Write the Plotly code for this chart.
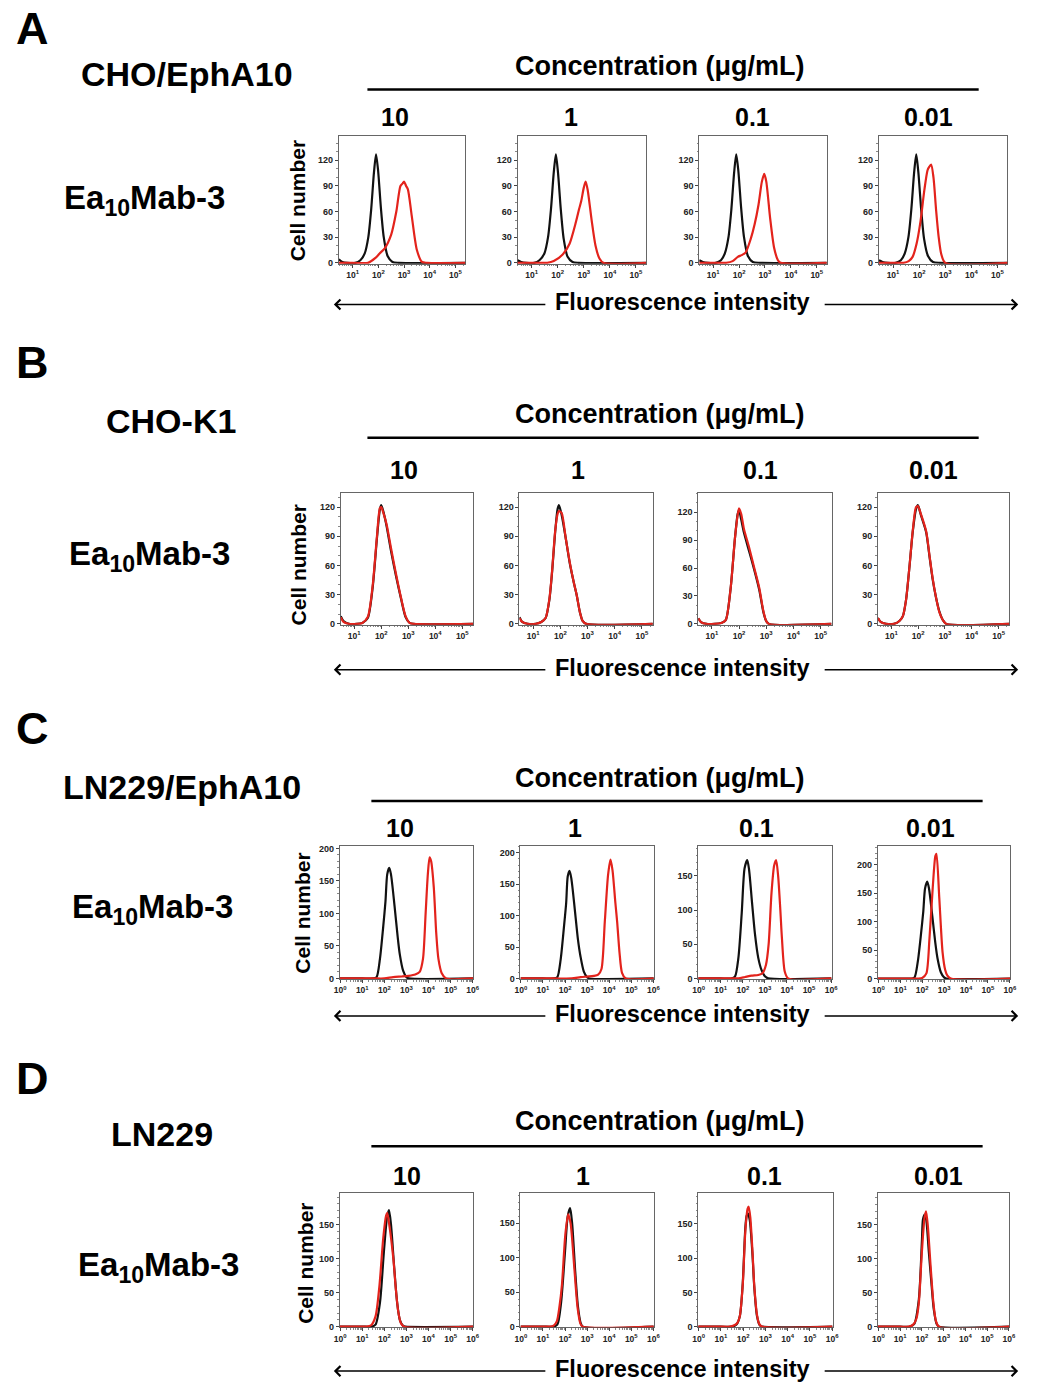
import math
import plotly.graph_objects as go

# ---------------- data (log10 fluorescence, cell counts) ----------------
# Panel A: CHO/EphA10
a10_ctrl_logx = [0.46, 0.6, 0.8, 1.1, 1.3, 1.47, 1.61, 1.72, 1.83, 1.91, 1.99, 2.1, 2.21, 2.36, 2.55, 2.8, 5.4]
a10_ctrl_y = [4, 1, 0, 0, 3, 11, 30, 62, 106, 127, 108, 64, 30, 8, 1, 0, 0]
a10_red_logx = [0.46, 1.0, 1.6, 1.9, 2.05, 2.25, 2.5, 2.7, 2.86, 2.95, 3.0, 3.08, 3.15, 3.3, 3.5, 3.7, 3.9, 5.4]
a10_red_y = [0, 0, 0, 6, 11, 17, 33, 60, 90, 93, 95, 90, 86, 55, 15, 1, 0, 0]

a1_ctrl_logx = [0.46, 0.6, 0.8, 1.1, 1.3, 1.49, 1.63, 1.74, 1.85, 1.93, 2.01, 2.12, 2.23, 2.38, 2.57, 2.8, 5.4]
a1_ctrl_y = [3, 1, 0, 0, 3, 11, 30, 62, 106, 127, 106, 62, 28, 7, 1, 0, 0]
a1_red_logx = [0.46, 1.2, 1.6, 1.85, 2.2, 2.45, 2.7, 2.82, 2.9, 3.0, 3.07, 3.15, 3.3, 3.45, 3.6, 3.75, 5.4]
a1_red_y = [0, 0, 0, 2, 10, 22, 48, 63, 72, 88, 95, 85, 50, 20, 5, 0, 0]

a01_ctrl_logx = [0.46, 0.6, 0.8, 1.1, 1.3, 1.45, 1.59, 1.7, 1.81, 1.89, 1.97, 2.08, 2.19, 2.34, 2.53, 2.8, 5.4]
a01_ctrl_y = [3, 1, 0, 0, 3, 11, 30, 62, 106, 127, 108, 64, 30, 8, 1, 0, 0]
a01_red_logx = [0.46, 1.2, 1.5, 1.75, 1.95, 2.1, 2.25, 2.45, 2.6, 2.75, 2.88, 2.97, 3.05, 3.2, 3.35, 3.5, 3.6, 5.4]
a01_red_y = [0, 0, 0, 2, 7, 9, 12, 28, 45, 68, 95, 104, 95, 52, 18, 3, 0, 0]

a001_ctrl_logx = [0.46, 0.6, 0.8, 1.1, 1.3, 1.45, 1.59, 1.7, 1.81, 1.89, 1.97, 2.08, 2.19, 2.34, 2.53, 2.8, 5.4]
a001_ctrl_y = [3, 1, 0, 0, 3, 11, 30, 62, 106, 127, 106, 62, 28, 8, 1, 0, 0]
a001_red_logx = [0.46, 1.2, 1.4, 1.6, 1.75, 1.9, 2.05, 2.2, 2.32, 2.38, 2.46, 2.55, 2.65, 2.75, 2.85, 3.0, 5.4]
a001_red_y = [0, 0, 0, 2, 7, 22, 48, 85, 108, 112, 115, 100, 62, 30, 10, 0, 0]

# Panel B: CHO-K1
b10_ctrl_logx = [0.5, 0.6, 0.8, 1.1, 1.3, 1.5, 1.68, 1.84, 1.95, 2.0, 2.1, 2.2, 2.36, 2.54, 2.73, 2.9, 3.05, 3.2, 5.4]
b10_ctrl_y = [8, 3, 0, 0, 1, 6, 37, 88, 118, 122, 113, 100, 75, 50, 26, 7, 1, 0, 0]
b10_red_logx = [0.5, 0.6, 0.8, 1.1, 1.3, 1.5, 1.68, 1.84, 1.95, 2.0, 2.1, 2.2, 2.36, 2.54, 2.73, 2.9, 3.05, 3.2, 5.4]
b10_red_y = [7, 2, 0, 0, 1, 7, 39, 90, 119, 120, 112, 102, 78, 52, 27, 8, 1, 0, 0]

b1_ctrl_logx = [0.5, 0.6, 0.8, 1.1, 1.3, 1.46, 1.6, 1.7, 1.81, 1.9, 1.95, 2.05, 2.2, 2.35, 2.5, 2.6, 2.72, 2.82, 2.95, 5.4]
b1_ctrl_y = [7, 2, 0, 0, 2, 6, 25, 54, 94, 118, 122, 112, 88, 62, 42, 30, 12, 3, 0, 0]
b1_red_logx = [0.5, 0.6, 0.8, 1.1, 1.3, 1.46, 1.6, 1.7, 1.81, 1.9, 1.95, 2.05, 2.2, 2.35, 2.5, 2.6, 2.72, 2.82, 2.95, 5.4]
b1_red_y = [6, 2, 0, 0, 2, 6, 26, 55, 95, 113, 116, 114, 88, 63, 42, 30, 12, 3, 0, 0]

b01_ctrl_logx = [0.5, 0.6, 0.8, 1.1, 1.35, 1.51, 1.69, 1.85, 1.95, 2.0, 2.08, 2.18, 2.37, 2.56, 2.74, 2.9, 3.0, 3.1, 5.4]
b01_ctrl_y = [6, 2, 0, 0, 1, 4, 38, 92, 118, 122, 112, 98, 78, 58, 37, 12, 3, 0, 0]
b01_red_logx = [0.5, 0.6, 0.8, 1.1, 1.35, 1.51, 1.69, 1.85, 1.95, 2.0, 2.08, 2.18, 2.37, 2.56, 2.74, 2.9, 3.0, 3.1, 5.4]
b01_red_y = [6, 2, 0, 0, 1, 4, 38, 92, 117, 124, 118, 102, 82, 60, 39, 13, 3, 0, 0]

b001_ctrl_logx = [0.5, 0.6, 0.8, 1.1, 1.3, 1.43, 1.55, 1.68, 1.8, 1.92, 1.99, 2.1, 2.3, 2.42, 2.54, 2.66, 2.79, 2.92, 3.05, 5.4]
b001_ctrl_y = [6, 2, 0, 0, 3, 8, 25, 60, 95, 118, 122, 112, 94, 70, 46, 28, 13, 4, 0, 0]
b001_red_logx = [0.5, 0.6, 0.8, 1.1, 1.3, 1.43, 1.55, 1.68, 1.8, 1.92, 1.99, 2.1, 2.3, 2.42, 2.54, 2.66, 2.79, 2.92, 3.05, 5.4]
b001_red_y = [6, 2, 0, 0, 3, 8, 25, 60, 96, 120, 121, 113, 95, 71, 47, 28, 12, 4, 0, 0]

# Panel C: LN229/EphA10
c10_ctrl_logx = [-0.02, 1.0, 1.5, 1.65, 1.8, 1.95, 2.05, 2.13, 2.22, 2.3, 2.46, 2.6, 2.7, 2.85, 3.0, 3.1, 6.02]
c10_ctrl_y = [0, 0, 0, 2, 30, 80, 118, 160, 170, 160, 112, 65, 37, 12, 2, 0, 0]
c10_red_logx = [-0.02, 1.5, 2.0, 2.4, 2.8, 3.1, 3.4, 3.6, 3.75, 3.87, 3.97, 4.05, 4.12, 4.24, 4.35, 4.45, 4.6, 4.8, 6.02]
c10_red_y = [0, 0, 0, 2, 3, 4, 6, 10, 30, 100, 160, 186, 180, 140, 70, 30, 8, 0, 0]

c1_ctrl_logx = [-0.02, 1.0, 1.5, 1.65, 1.8, 1.95, 2.05, 2.12, 2.2, 2.28, 2.44, 2.58, 2.7, 2.85, 3.0, 3.1, 6.02]
c1_ctrl_y = [0, 0, 0, 2, 30, 82, 120, 162, 171, 160, 110, 63, 35, 11, 2, 0, 0]
c1_red_logx = [-0.02, 1.5, 2.3, 2.7, 3.0, 3.3, 3.5, 3.65, 3.8, 3.95, 4.06, 4.15, 4.28, 4.36, 4.47, 4.58, 4.75, 6.02]
c1_red_y = [0, 0, 0, 2, 3, 4, 6, 15, 90, 165, 189, 172, 120, 90, 40, 9, 0, 0]

c01_ctrl_logx = [-0.02, 1.0, 1.5, 1.65, 1.8, 1.95, 2.08, 2.2, 2.28, 2.42, 2.55, 2.7, 2.85, 3.0, 3.15, 6.02]
c01_ctrl_y = [0, 0, 0, 3, 30, 95, 161, 173, 160, 110, 65, 30, 12, 3, 0, 0]
c01_red_logx = [-0.02, 1.5, 1.8, 2.1, 2.4, 2.7, 2.9, 3.05, 3.17, 3.3, 3.42, 3.51, 3.6, 3.7, 3.77, 3.9, 4.05, 6.02]
c01_red_y = [0, 0, 0, 2, 4, 5, 8, 20, 50, 125, 165, 173, 150, 100, 60, 10, 0, 0]

c001_ctrl_logx = [-0.02, 1.0, 1.5, 1.65, 1.8, 1.95, 2.05, 2.13, 2.23, 2.31, 2.46, 2.6, 2.7, 2.85, 3.0, 3.1, 6.02]
c001_ctrl_y = [0, 0, 0, 2, 30, 80, 118, 158, 170, 158, 110, 62, 35, 11, 2, 0, 0]
c001_red_logx = [-0.02, 1.5, 1.8, 2.0, 2.19, 2.33, 2.48, 2.6, 2.65, 2.78, 2.93, 3.05, 3.15, 3.3, 6.02]
c001_red_y = [0, 0, 0, 1, 9, 69, 159, 215, 219, 141, 46, 15, 5, 0, 0]

# Panel D: LN229
d10_ctrl_logx = [-0.02, 1.0, 1.4, 1.6, 1.8, 1.98, 2.12, 2.21, 2.3, 2.45, 2.58, 2.7, 2.85, 2.95, 6.02]
d10_ctrl_y = [0, 0, 0, 3, 35, 110, 160, 171, 150, 85, 35, 10, 1, 0, 0]
d10_red_logx = [-0.02, 1.0, 1.2, 1.4, 1.6, 1.78, 1.95, 2.08, 2.13, 2.22, 2.41, 2.52, 2.63, 2.75, 2.9, 6.02]
d10_red_y = [0, 0, 0, 2, 15, 61, 130, 163, 167, 150, 99, 55, 22, 5, 0, 0]

d1_ctrl_logx = [-0.02, 1.0, 1.45, 1.65, 1.82, 2.0, 2.12, 2.23, 2.32, 2.46, 2.58, 2.7, 2.8, 6.02]
d1_ctrl_y = [0, 0, 0, 3, 35, 110, 160, 172, 150, 80, 30, 6, 0, 0]
d1_red_logx = [-0.02, 1.0, 1.3, 1.5, 1.63, 1.75, 1.86, 2.01, 2.14, 2.25, 2.42, 2.57, 2.7, 2.8, 6.02]
d1_red_y = [0, 0, 0, 2, 8, 30, 61, 133, 163, 150, 85, 27, 4, 0, 0]

d01_ctrl_logx = [-0.02, 1.0, 1.5, 1.7, 1.85, 1.98, 2.1, 2.16, 2.22, 2.3, 2.42, 2.5, 2.62, 2.75, 2.85, 6.02]
d01_ctrl_y = [0, 0, 0, 3, 15, 62, 145, 162, 165, 155, 105, 58, 16, 2, 0, 0]
d01_red_logx = [-0.02, 1.0, 1.4, 1.6, 1.75, 1.85, 1.98, 2.1, 2.2, 2.25, 2.32, 2.42, 2.5, 2.62, 2.72, 2.85, 6.02]
d01_red_y = [0, 0, 0, 2, 6, 15, 60, 140, 172, 175, 160, 110, 60, 18, 4, 0, 0]

d001_ctrl_logx = [-0.02, 1.0, 1.45, 1.65, 1.86, 2.0, 2.05, 2.13, 2.2, 2.32, 2.45, 2.55, 2.68, 2.8, 6.02]
d001_ctrl_y = [0, 0, 0, 4, 40, 125, 158, 165, 158, 110, 60, 25, 4, 0, 0]
d001_red_logx = [-0.02, 1.0, 1.4, 1.6, 1.75, 1.86, 2.0, 2.12, 2.19, 2.27, 2.4, 2.53, 2.65, 2.78, 6.02]
d001_red_y = [0, 0, 0, 3, 12, 35, 110, 160, 170, 150, 90, 35, 8, 0, 0]

concentrations = ["10", "1", "0.1", "0.01"]
cell_lines = ["CHO/EphA10", "CHO-K1", "LN229/EphA10", "LN229"]
panel_letters = ["A", "B", "C", "D"]
antibody = "Ea<sub>10</sub>Mab-3"
conc_title = "Concentration (μg/mL)"
x_title = "Fluorescence intensity"
y_title = "Cell number"
ab_decades = [1, 2, 3, 4, 5]
cd_decades = [0, 1, 2, 3, 4, 5, 6]
ab_yticks = [0, 30, 60, 90, 120]
cd_yticks = [0, 50, 100, 150, 200]

# ---------------- layout ----------------
W, H = 1039, 1397
FONT = "Liberation Sans"


def fx(x):
    return x / W


def fy(y):
    return 1 - y / H


curves = [
    [(a10_ctrl_logx, a10_ctrl_y, a10_red_logx, a10_red_y),
     (a1_ctrl_logx, a1_ctrl_y, a1_red_logx, a1_red_y),
     (a01_ctrl_logx, a01_ctrl_y, a01_red_logx, a01_red_y),
     (a001_ctrl_logx, a001_ctrl_y, a001_red_logx, a001_red_y)],
    [(b10_ctrl_logx, b10_ctrl_y, b10_red_logx, b10_red_y),
     (b1_ctrl_logx, b1_ctrl_y, b1_red_logx, b1_red_y),
     (b01_ctrl_logx, b01_ctrl_y, b01_red_logx, b01_red_y),
     (b001_ctrl_logx, b001_ctrl_y, b001_red_logx, b001_red_y)],
    [(c10_ctrl_logx, c10_ctrl_y, c10_red_logx, c10_red_y),
     (c1_ctrl_logx, c1_ctrl_y, c1_red_logx, c1_red_y),
     (c01_ctrl_logx, c01_ctrl_y, c01_red_logx, c01_red_y),
     (c001_ctrl_logx, c001_ctrl_y, c001_red_logx, c001_red_y)],
    [(d10_ctrl_logx, d10_ctrl_y, d10_red_logx, d10_red_y),
     (d1_ctrl_logx, d1_ctrl_y, d1_red_logx, d1_red_y),
     (d01_ctrl_logx, d01_ctrl_y, d01_red_logx, d01_red_y),
     (d001_ctrl_logx, d001_ctrl_y, d001_red_logx, d001_red_y)],
]

# frame pixel boxes per row: x-extents and y (top, bottom)
frame_x = [
    [(337, 465), (518, 648), (702, 831), (884, 1014)],
    [(339, 473), (520, 655), (701, 836), (883, 1016)],
    [(338, 473), (521, 656), (701, 836), (883, 1017)],
    [(338, 473), (521, 656), (701, 837), (883, 1016)],
]
frame_y = [(135, 263), (493, 626), (848, 982), (1197, 1332)]
y_max = [
    [148, 148, 148, 148],
    [135, 135, 141, 135],
    [204, 211, 194, 233],
    [196, 194, 195, 197],
]
x_range = [[0.46, 5.38], [0.5, 5.4], [-0.02, 6.02], [-0.02, 6.02]]

# header geometry per row
letter_pos = [(27, 27), (27, 362), (27, 730), (27, 1082)]
line_name_pos = [(183, 72), (167, 421), (178, 789), (158, 1138)]
ab_pos = [(140, 199), (145, 557), (148, 912), (154, 1271)]
conc_title_y = [64, 414, 780, 1125]
conc_line = [(366, 985, 88), (366, 985, 438), (370, 989, 803), (370, 989, 1150)]
conc_label_y = [116, 470, 830, 1180]
conc_label_x = [[394, 572, 756, 934], [403, 579, 764, 939], [399, 576, 760, 936], [406, 584, 768, 944]]
xtitle_y = [302, 669, 1017, 1374]
ytitle_pos = [(296, 200), (296, 566), (300, 916), (303, 1268)]

fig = go.Figure()
layout = {}
annotations = []
shapes = []

k = 0
for r in range(4):
    for c in range(4):
        k += 1
        ctrl_lx, ctrl_y, red_lx, red_y = curves[r][c]
        xa = "x" if k == 1 else f"x{k}"
        ya = "y" if k == 1 else f"y{k}"
        fig.add_trace(go.Scatter(
            x=[10 ** v for v in ctrl_lx], y=ctrl_y, xaxis=xa, yaxis=ya, mode="lines",
            line=dict(color="#111111", width=2.2, shape="spline", smoothing=0.7),
            showlegend=False, hoverinfo="skip"))
        fig.add_trace(go.Scatter(
            x=[10 ** v for v in red_lx], y=red_y, xaxis=xa, yaxis=ya, mode="lines",
            line=dict(color="#e3231c", width=2.2, shape="spline", smoothing=0.7),
            showlegend=False, hoverinfo="skip"))

        x0, x1 = frame_x[r][c]
        ytop, ybot = frame_y[r]
        decades = ab_decades if r < 2 else cd_decades
        lo, hi = x_range[r]
        minor_x = [m * 10 ** d for d in range(int(lo) - 1, int(hi) + 1) for m in range(2, 10)
                   if lo < (d + math.log10(m)) < hi]
        yticks = ab_yticks if r < 2 else cd_yticks
        ymax = y_max[r][c]
        yt = [v for v in yticks if v <= ymax]
        minor_y = [v for v in range(10, int(ymax), 10) if v not in yt]

        axname = "xaxis" if k == 1 else f"xaxis{k}"
        ayname = "yaxis" if k == 1 else f"yaxis{k}"
        layout[axname] = dict(
            type="log", range=[lo, hi], domain=[fx(x0), fx(x1)], anchor=ya,
            showline=True, linecolor="#666666", linewidth=1, mirror=True,
            ticks="outside", ticklen=3, tickwidth=1, tickcolor="#444444",
            tickmode="array", tickvals=[10 ** d for d in decades],
            ticktext=[f"10<sup>{d}</sup>" for d in decades],
            tickfont=dict(family=FONT, size=8.5, color="#222222", weight="bold"),
            minor=dict(tickmode="array", tickvals=minor_x, ticks="outside", ticklen=1.5,
                       tickcolor="#888888", showgrid=False),
            showgrid=False, zeroline=False, layer="below traces", fixedrange=True)
        layout[ayname] = dict(
            range=[-1, ymax], domain=[fy(ybot), fy(ytop)], anchor=xa,
            showline=True, linecolor="#666666", linewidth=1, mirror=True,
            ticks="outside", ticklen=3, tickwidth=1, tickcolor="#444444",
            tickmode="array", tickvals=yt, ticktext=[str(v) for v in yt],
            tickfont=dict(family=FONT, size=9, color="#222222", weight="bold"),
            minor=dict(tickmode="array", tickvals=minor_y, ticks="outside", ticklen=1.5,
                       tickcolor="#888888", showgrid=False),
            showgrid=False, zeroline=False, layer="below traces", fixedrange=True)


def text(x, y, s, size, angle=0):
    annotations.append(dict(
        x=fx(x), y=fy(y), xref="paper", yref="paper", text=f"<b>{s}</b>", showarrow=False,
        xanchor="center", yanchor="middle", textangle=angle,
        font=dict(family=FONT, size=size, color="black")))


for r in range(4):
    text(letter_pos[r][0], letter_pos[r][1], panel_letters[r], 45)
    text(line_name_pos[r][0], line_name_pos[r][1], cell_lines[r], 34)
    text(ab_pos[r][0], ab_pos[r][1], antibody, 33)
    text(662, conc_title_y[r], conc_title, 27)
    lx0, lx1, ly = conc_line[r]
    shapes.append(dict(type="line", xref="paper", yref="paper", x0=fx(lx0), x1=fx(lx1),
                       y0=fy(ly), y1=fy(ly), line=dict(color="black", width=2.5)))
    for i, cl in enumerate(concentrations):
        text(conc_label_x[r][i], conc_label_y[r], cl, 25)
    text(685, xtitle_y[r], x_title, 23.5)
    text(ytitle_pos[r][0], ytitle_pos[r][1], y_title, 21, angle=-90)
    ay = xtitle_y[r] + 2
    # left arrow (head at left) and right arrow (head at right)
    annotations.append(dict(x=fx(332), y=fy(ay), xref="paper", yref="paper", text="",
                            showarrow=True, ax=545 - 332, ay=0, arrowhead=4, arrowsize=1.3,
                            arrowwidth=1.5, arrowcolor="black", standoff=0))
    annotations.append(dict(x=fx(1025), y=fy(ay), xref="paper", yref="paper", text="",
                            showarrow=True, ax=830 - 1025, ay=0, arrowhead=4, arrowsize=1.3,
                            arrowwidth=1.5, arrowcolor="black", standoff=0))

fig.update_layout(
    width=W, height=H, margin=dict(l=0, r=0, t=0, b=0),
    paper_bgcolor="white", plot_bgcolor="white",
    annotations=annotations, shapes=shapes, showlegend=False,
    **layout)

fig.write_html("out.html")
